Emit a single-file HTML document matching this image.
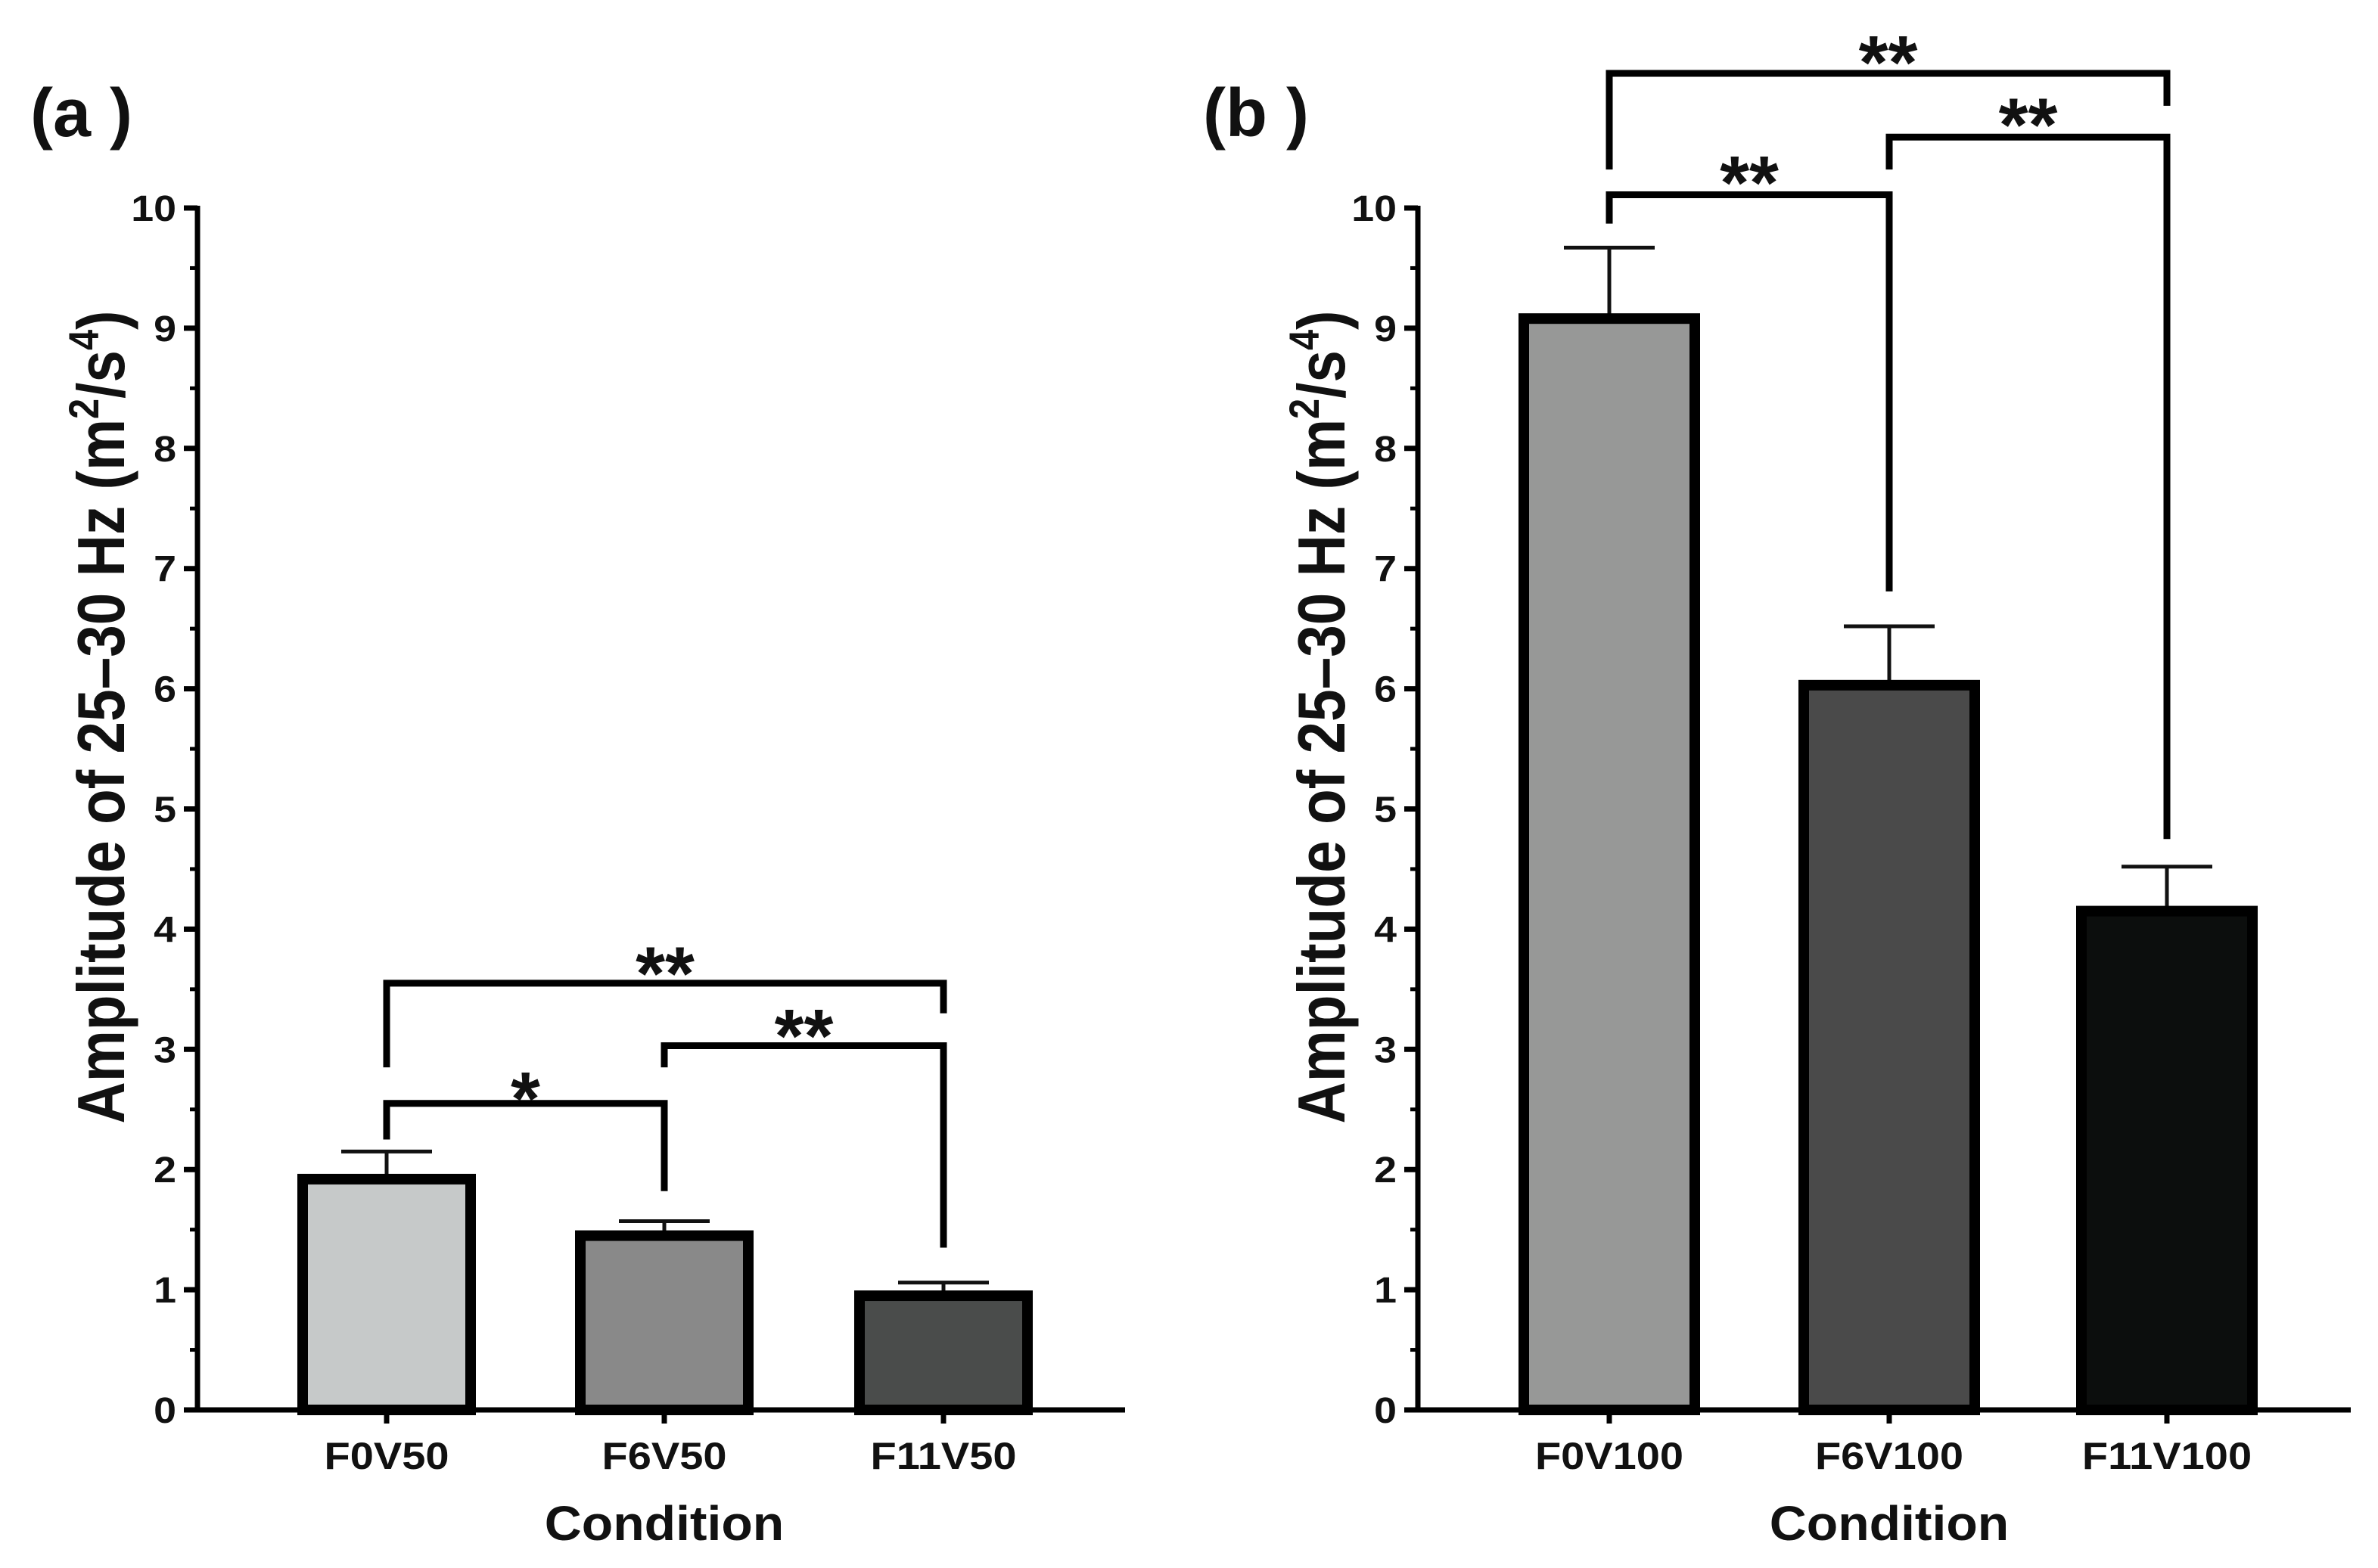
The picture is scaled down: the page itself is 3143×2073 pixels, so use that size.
<!DOCTYPE html>
<html><head><meta charset="utf-8"><style>
html,body{margin:0;padding:0;background:#fff}
svg text{font-family:"Liberation Sans",Arial,sans-serif;font-weight:bold;fill:#111}
</style></head><body>
<svg id="fig" width="3143" height="2068" viewBox="0 0 3143 2068" xmlns="http://www.w3.org/2000/svg">
<text x="40" y="180" font-size="90" fill="#333">(a )</text>
<text x="1590" y="180" font-size="90" fill="#333">(b )</text>
</svg>
<script>
const catsA = ["F0V50","F6V50","F11V50"];
const valsA = [1.92,1.45,0.95];
const errA = [2.15,1.57,1.06];
const colA = ["#c6c9c9","#898989","#4a4c4b"];
const sigA = [[0,1,2.55,2.25,1.82,"*",2.72],[1,2,3.03,2.85,1.35,"**",3.24],[0,2,3.55,2.85,3.3,"**",3.76]];
const catsB = ["F0V100","F6V100","F11V100"];
const valsB = [9.08,6.03,4.15];
const errB = [9.67,6.52,4.52];
const colB = ["#979897","#4a4a4a","#0c0e0d"];
const sigB = [[0,1,10.11,9.87,6.81,"**",10.34],[1,2,10.59,10.32,4.75,"**",10.82],[0,2,11.12,10.32,10.85,"**",11.34]];
const yTicks = [0,1,2,3,4,5,6,7,8,9,10];

const svg = document.getElementById('fig');
const NS = "http://www.w3.org/2000/svg";
function mk(tag, attrs, parent){const e=document.createElementNS(NS,tag);for(const k in attrs)e.setAttribute(k,attrs[k]);(parent||svg).appendChild(e);return e;}

function panel(p, axX, axEnd, centers, cats, vals, errs, cols, sigs, barW){
  const y0=1864, y10=275;
  const ys = v => y0 - (v/10)*(y0-y10);
  const g = mk('g',{});
  
  
  cats.forEach((c,i)=>{
    const cx=centers[i], top=ys(vals[i]);
    const eb = mk('path',{d:`M${cx},${top} V${ys(errs[i])} M${cx-60},${ys(errs[i])} H${cx+60}`,stroke:'#111','stroke-width':5,fill:'none'},g);
    
    
    const r = mk('rect',{x:cx-barW/2+7,y:top,width:barW-14,height:y0-top,fill:cols[i],stroke:'#000','stroke-width':14},g);
    
    
    const t = mk('text',{x:0,y:0,'font-size':50,'text-anchor':'middle',transform:`translate(${cx},1942) scale(1.12,1)`},g);
    t.textContent=c;
    
    
    mk('line',{x1:cx,x2:cx,y1:y0,y2:y0+18,stroke:'#000','stroke-width':7},g);
  });
  const ax = mk('path',{d:`M${axX},${y10-3} V${y0} H${axEnd}`,stroke:'#000','stroke-width':7,fill:'none'},g);
  
  
  yTicks.forEach(v=>{
    mk('line',{x1:axX-18,x2:axX,y1:ys(v),y2:ys(v),stroke:'#000','stroke-width':7},g);
    if(v<10) mk('line',{x1:axX-10,x2:axX,y1:ys(v+0.5),y2:ys(v+0.5),stroke:'#000','stroke-width':5},g);
    const t = mk('text',{x:0,y:0,'font-size':48,'text-anchor':'end',transform:`translate(${axX-28},${ys(v)+17}) scale(1.12,1)`},g);
    t.textContent=v;
    
    
  });
  sigs.forEach(s=>{
    const xa=centers[s[0]], xb=centers[s[1]];
    const b = mk('path',{d:`M${xa},${ys(s[3])} V${ys(s[2])} H${xb} V${ys(s[4])}`,stroke:'#000','stroke-width':9,fill:'none'},g);
    
    
    const t = mk('text',{x:(xa+xb)/2,y:ys(s[6])+55,'font-size':100,'text-anchor':'middle'},g);
    t.textContent=s[5];
    
    
  });
  const yt = mk('text',{x:0,y:0,'font-size':88,'text-anchor':'middle',transform:`translate(${axX-97},948) rotate(-90) scale(0.87,1)`},g);
  yt.innerHTML='Amplitude of 25–30 Hz (m<tspan dy="-34" font-size="56">2</tspan><tspan dy="34">/s</tspan><tspan dy="-34" font-size="56">4</tspan><tspan dy="34">)</tspan>';
  
  
  const xt = mk('text',{x:0,y:0,'font-size':64,'text-anchor':'middle',transform:`translate(${centers[1]},2036) scale(1.06,1)`},g);
  xt.textContent='Condition';
  
  
}
panel('panel-a',261,1487,[511,878,1247],catsA,valsA,errA,colA,sigA,236);
panel('panel-b',1874,3107,[2127,2497,2864],catsB,valsB,errB,colB,sigB,240);
</script>
</body></html>
